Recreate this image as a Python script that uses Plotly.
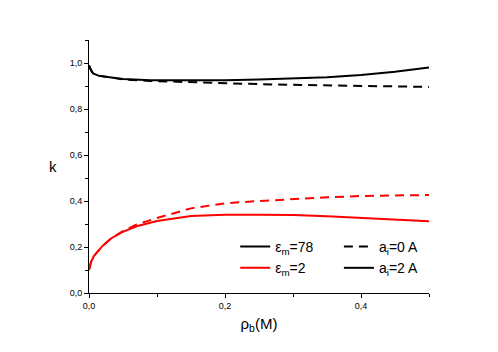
import plotly.graph_objects as go

# rho_b (M) and k values
x_black = [0.0, 0.003, 0.006, 0.014, 0.03, 0.05, 0.09, 0.15, 0.2, 0.25, 0.3, 0.35, 0.4, 0.45, 0.5]
k78_a2 = [0.99, 0.968, 0.955, 0.945, 0.938, 0.930, 0.925, 0.924, 0.925, 0.928, 0.932, 0.938, 0.948, 0.962, 0.98]
k78_a0 = [0.99, 0.968, 0.955, 0.945, 0.938, 0.929, 0.922, 0.916, 0.912, 0.908, 0.905, 0.902, 0.900, 0.898, 0.896]

x_red = [0.0, 0.003, 0.007, 0.014, 0.02, 0.033, 0.048, 0.07, 0.1, 0.15, 0.2, 0.25, 0.3, 0.35, 0.4, 0.45, 0.5]
k2_a2 = [0.1, 0.135, 0.16, 0.187, 0.205, 0.238, 0.264, 0.29, 0.313, 0.335, 0.34, 0.34, 0.339, 0.334, 0.327, 0.32, 0.312]
k2_a0 = [0.1, 0.135, 0.16, 0.187, 0.205, 0.238, 0.266, 0.298, 0.326, 0.368, 0.39, 0.4, 0.409, 0.416, 0.422, 0.425, 0.426]

font = "Liberation Sans, Arial, sans-serif"
dash = "9px,6px"

fig = go.Figure()
fig.add_trace(go.Scatter(x=x_black, y=k78_a0, mode="lines", showlegend=False,
                         line=dict(color="black", width=2, dash=dash)))
fig.add_trace(go.Scatter(x=x_black, y=k78_a2, mode="lines", showlegend=False,
                         line=dict(color="black", width=2)))
fig.add_trace(go.Scatter(x=x_red, y=k2_a0, mode="lines", showlegend=False,
                         line=dict(color="red", width=2, dash=dash)))
fig.add_trace(go.Scatter(x=x_red, y=k2_a2, mode="lines", showlegend=False,
                         line=dict(color="red", width=2)))

# legend entries only
fig.add_trace(go.Scatter(x=[None], y=[None], mode="lines", name="ε<sub>m</sub>=78",
                         line=dict(color="black", width=2), legend="legend"))
fig.add_trace(go.Scatter(x=[None], y=[None], mode="lines", name="ε<sub>m</sub>=2",
                         line=dict(color="red", width=2), legend="legend"))
fig.add_trace(go.Scatter(x=[None], y=[None], mode="lines", name="a<sub>i</sub>=0 A",
                         line=dict(color="black", width=2, dash=dash), legend="legend2"))
fig.add_trace(go.Scatter(x=[None], y=[None], mode="lines", name="a<sub>i</sub>=2 A",
                         line=dict(color="black", width=2), legend="legend2"))

axis = dict(showgrid=False, zeroline=False, showline=True, linecolor="black", linewidth=1,
            ticks="outside", ticklen=4, tickcolor="black", tickformat=".1f", automargin=False,
            tickfont=dict(size=9, family=font, color="black"),
            minor=dict(ticks="outside", ticklen=3, tickcolor="black", dtick=0.1))

# page body has an 8px margin, so the margins are offset to land the axes where the reference has them
fig.update_layout(
    width=498, height=352,
    margin=dict(l=81, r=77, t=32, b=67, autoexpand=False),
    plot_bgcolor="white", paper_bgcolor="white",
    separators=", ",
    font=dict(family=font, color="black"),
    xaxis=dict(axis, range=[0, 0.5], dtick=0.2, tick0=0,
               title=dict(text="ρ<sub>b</sub>(M)", font=dict(size=15), standoff=8)),
    yaxis=dict(axis, range=[0, 1.1], dtick=0.2, tick0=0),
    legend=dict(x=0.43, y=0.245, xanchor="left", yanchor="top", bgcolor="rgba(0,0,0,0)",
                font=dict(size=14), itemwidth=30, tracegroupgap=0),
    legend2=dict(x=0.735, y=0.245, xanchor="left", yanchor="top", bgcolor="rgba(0,0,0,0)",
                 font=dict(size=14), itemwidth=30, tracegroupgap=0),
)
# upright "k" y-axis label
fig.add_annotation(text="k", xref="paper", yref="paper", x=-0.105, y=0.5,
                   showarrow=False, font=dict(size=15), xanchor="center", yanchor="middle")

fig.write_html("out.html")
